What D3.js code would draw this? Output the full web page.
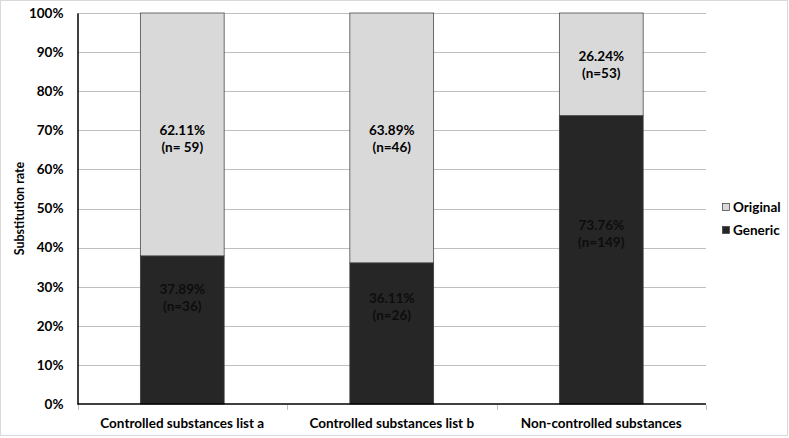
<!DOCTYPE html>
<html>
<head>
<meta charset="utf-8">
<script src="https://cdn.jsdelivr.net/npm/d3@7"></script>
<style>
	body { margin: 0; background: #fff; }
	text { font-family: Lato, "Open Sans", sans-serif; font-weight: bold; }
</style>
</head>
<body>
<script>
	//chart data
	var categories = ["Controlled substances list a", "Controlled substances list b", "Non-controlled substances"];
	var genericPct = [37.89, 36.11, 73.76];
	var originalPct = [62.11, 63.89, 26.24];
	var genericN = ["(n=36)", "(n=26)", "(n=149)"];
	var originalN = ["(n= 59)", "(n=46)", "(n=53)"];
	var yTicks = [0, 10, 20, 30, 40, 50, 60, 70, 80, 90, 100];
	//where the labels sit, in percent units
	var genericLabelAt = [27, 24.7, 43.4];
	var originalLabelAt = [67.7, 67.7, 86.6];

(function(){
	var width = 789, height = 438;
	var padLeft = 77.5, padRight = 706, padTop = 13, padBottom = 404;
	var fs = "13.5px";

	var svg = d3.select("body").append("svg")
		.attr("width", width)
		.attr("height", height);

	//outer frame
	svg.append("rect")
		.attr("x", 0.5).attr("y", 0.5)
		.attr("width", width - 2).attr("height", height - 3)
		.attr("fill", "#fff")
		.attr("stroke", "#d9d9d9");

	var x = d3.scaleBand()
		.domain(categories)
		.range([padLeft, padRight])
		.paddingInner(0.6)
		.paddingOuter(0.3);

	var y = d3.scaleLinear()
		.domain([0, 100])
		.range([padBottom, padTop]);

	//gridlines
	svg.selectAll(".grid")
		.data(yTicks.slice(1))
		.enter()
		.append("line")
		.attr("x1", padLeft).attr("x2", padRight)
		.attr("y1", function(d){ return Math.round(y(d)) + 0.5; })
		.attr("y2", function(d){ return Math.round(y(d)) + 0.5; })
		.attr("stroke", "#bfbfbf")
		.attr("stroke-width", 1);

	//stacked bars
	var bars = svg.selectAll(".bar")
		.data(categories)
		.enter()
		.append("g");

	bars.append("rect")
		.attr("x", function(d){ return x(d); })
		.attr("width", x.bandwidth())
		.attr("y", function(d, i){ return y(genericPct[i]); })
		.attr("height", function(d, i){ return padBottom - y(genericPct[i]); })
		.attr("fill", "#262626")
		.attr("stroke", "#3a3a3a")
		.attr("stroke-width", 0.75);

	bars.append("rect")
		.attr("x", function(d){ return x(d); })
		.attr("width", x.bandwidth())
		.attr("y", function(d, i){ return y(100); })
		.attr("height", function(d, i){ return y(genericPct[i]) - y(100); })
		.attr("fill", "#d9d9d9")
		.attr("stroke", "#404040")
		.attr("stroke-width", 0.75);

	//labels
	function addLabel(vals, ns, at, color){
		var t = svg.selectAll(null)
			.data(categories)
			.enter()
			.append("text")
			.attr("text-anchor", "middle")
			.attr("font-size", fs)
			.attr("fill", color)
			.attr("x", function(d){ return x(d) + x.bandwidth() / 2; })
			.attr("y", function(d, i){ return y(at[i]) - 4; });
		t.append("tspan")
			.text(function(d, i){ return vals[i].toFixed(2) + "%"; });
		t.append("tspan")
			.attr("x", function(d){ return x(d) + x.bandwidth() / 2; })
			.attr("dy", 17)
			.text(function(d, i){ return ns[i]; });
	}
	addLabel(originalPct, originalN, originalLabelAt, "#000");
	addLabel(genericPct, genericN, genericLabelAt, "#0d0d0d");

	//y axis
	var yAxis = svg.append("g")
		.attr("transform", "translate(" + padLeft + ",0)")
		.call(d3.axisLeft(y).tickValues(yTicks).tickSize(0).tickPadding(14)
			.tickFormat(function(d){ return d + "%"; }));
	yAxis.select(".domain").attr("stroke", "#000").attr("stroke-width", 1.5);
	yAxis.selectAll("text").attr("font-size", fs).attr("fill", "#000")
		.attr("font-family", "Lato, sans-serif");

	//x axis
	var xAxis = svg.append("g")
		.attr("transform", "translate(0," + padBottom + ")");
	xAxis.append("line")
		.attr("x1", padLeft).attr("x2", padRight)
		.attr("stroke", "#000").attr("stroke-width", 1.5);
	var bounds = [padLeft].concat(categories.map(function(d){ return x(d) + x.bandwidth() + x.step() * 0.3; }));
	xAxis.selectAll(".tick")
		.data(bounds)
		.enter()
		.append("line")
		.attr("x1", function(d){ return Math.round(d) + 0.5; })
		.attr("x2", function(d){ return Math.round(d) + 0.5; })
		.attr("y1", 1).attr("y2", 6)
		.attr("stroke", "#bfbfbf");
	xAxis.selectAll(".lbl")
		.data(categories)
		.enter()
		.append("text")
		.attr("text-anchor", "middle")
		.attr("font-size", fs)
		.attr("x", function(d){ return x(d) + x.bandwidth() / 2; })
		.attr("y", 24)
		.text(function(d){ return d; });

	//y axis title
	svg.append("text")
		.attr("transform", "translate(24," + ((padTop + padBottom) / 2) + ") rotate(-90)")
		.attr("text-anchor", "middle")
		.attr("font-size", "12.5px")
		.text("Substitution rate");

	//legend
	var legendItems = ["Original", "Generic"];
	var legendColors = ["#d9d9d9", "#262626"];
	var legend = svg.selectAll(".legend")
		.data(legendItems)
		.enter()
		.append("g")
		.attr("transform", function(d, i){ return "translate(722," + (203 + i * 23) + ")"; });
	legend.append("rect")
		.attr("x", 0.5).attr("y", 0.5)
		.attr("width", 7).attr("height", 7)
		.attr("fill", function(d, i){ return legendColors[i]; })
		.attr("stroke", "#404040")
		.attr("stroke-width", 0.75);
	legend.append("text")
		.attr("x", 11)
		.attr("y", 9)
		.attr("font-size", fs)
		.text(function(d){ return d; });
})();
</script>
</body>
</html>
